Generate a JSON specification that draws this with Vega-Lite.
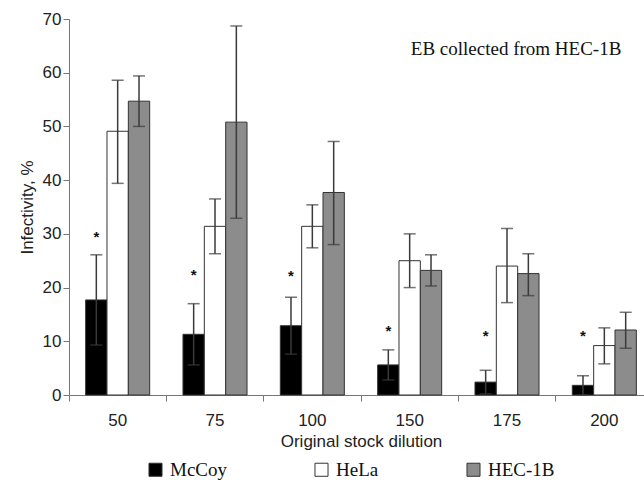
{
  "$schema": "https://vega.github.io/schema/vega-lite/v6.json",
  "autosize": "none",
  "width": 584,
  "height": 376,
  "padding": {"left": 69, "top": 19, "right": 0, "bottom": 85},
  "background": "white",
  "config": {
    "view": {"stroke": null},
    "axis": {"labelFont": "Liberation Sans", "titleFont": "Liberation Sans", "labelColor": "#222", "titleColor": "#222", "domainColor": "#777", "tickColor": "#777", "grid": false}
  },
  "datasets": {
    "bars": [
      {"dilution": "50", "line": "McCoy", "value": 17.7, "lo": 9.3, "hi": 26.1, "star": 29.8},
      {"dilution": "50", "line": "HeLa", "value": 49.1, "lo": 39.4, "hi": 58.6, "star": null},
      {"dilution": "50", "line": "HEC-1B", "value": 54.7, "lo": 50.0, "hi": 59.4, "star": null},
      {"dilution": "75", "line": "McCoy", "value": 11.3, "lo": 5.6, "hi": 17.0, "star": 22.8},
      {"dilution": "75", "line": "HeLa", "value": 31.4, "lo": 26.3, "hi": 36.5, "star": null},
      {"dilution": "75", "line": "HEC-1B", "value": 50.8, "lo": 32.9, "hi": 68.7, "star": null},
      {"dilution": "100", "line": "McCoy", "value": 12.9, "lo": 7.6, "hi": 18.2, "star": 22.5},
      {"dilution": "100", "line": "HeLa", "value": 31.4, "lo": 27.4, "hi": 35.4, "star": null},
      {"dilution": "100", "line": "HEC-1B", "value": 37.7, "lo": 28.0, "hi": 47.2, "star": null},
      {"dilution": "150", "line": "McCoy", "value": 5.6, "lo": 2.8, "hi": 8.4, "star": 12.3},
      {"dilution": "150", "line": "HeLa", "value": 25.0, "lo": 20.0, "hi": 30.0, "star": null},
      {"dilution": "150", "line": "HEC-1B", "value": 23.2, "lo": 20.3, "hi": 26.1, "star": null},
      {"dilution": "175", "line": "McCoy", "value": 2.4, "lo": 0.2, "hi": 4.6, "star": 11.4},
      {"dilution": "175", "line": "HeLa", "value": 24.0, "lo": 17.2, "hi": 31.0, "star": null},
      {"dilution": "175", "line": "HEC-1B", "value": 22.6, "lo": 18.5, "hi": 26.3, "star": null},
      {"dilution": "200", "line": "McCoy", "value": 1.8, "lo": 0.0, "hi": 3.6, "star": 11.4},
      {"dilution": "200", "line": "HeLa", "value": 9.2, "lo": 5.8, "hi": 12.5, "star": null},
      {"dilution": "200", "line": "HEC-1B", "value": 12.1, "lo": 8.7, "hi": 15.4, "star": null}
    ],
    "note": [
      {"dilution": "200", "y": 64.4, "label": "EB collected from HEC-1B"}
    ]
  },
  "encoding": {
    "x": {
      "field": "dilution", "type": "nominal", "sort": ["50", "75", "100", "150", "175", "200"],
      "scale": {"paddingInner": 0, "paddingOuter": 0},
      "axis": {"bandPosition": 0, "labelAngle": 0, "labelFontSize": 17, "labelPadding": 11, "tickSize": 6, "title": "Original stock dilution", "titleFontSize": 17, "titleFontWeight": "normal", "titlePadding": 5}
    }
  },
  "layer": [
    {
      "data": {"name": "bars"},
      "mark": {"type": "bar", "stroke": "#333", "strokeWidth": 1},
      "encoding": {
        "xOffset": {"field": "line", "type": "nominal", "sort": ["McCoy", "HeLa", "HEC-1B"], "scale": {"domain": ["McCoy", "HeLa", "HEC-1B"], "paddingInner": 0, "paddingOuter": 0.78}},
        "y": {
          "field": "value", "type": "quantitative",
          "scale": {"domain": [0, 70]},
          "axis": {"values": [0, 10, 20, 30, 40, 50, 60, 70], "labelFontSize": 17, "labelPadding": 2, "tickSize": 6, "title": "Infectivity, %", "titleFontSize": 17, "titleFontWeight": "normal", "titlePadding": 6}
        },
        "fill": {
          "field": "line", "type": "nominal",
          "scale": {"domain": ["McCoy", "HeLa", "HEC-1B"], "range": ["#000000", "#ffffff", "#8c8c8c"]},
          "legend": {"title": null, "orient": "none", "legendX": 77, "legendY": 441, "direction": "horizontal", "gridAlign": "each", "columnPadding": 85, "symbolType": "square", "symbolSize": 170, "symbolStrokeColor": "#333", "symbolStrokeWidth": 1, "labelFont": "Liberation Serif", "labelFontSize": 19, "labelColor": "#111", "labelOffset": 5}
        }
      }
    },
    {
      "data": {"name": "bars"},
      "mark": {"type": "rule", "color": "#3a3a3a", "strokeWidth": 1.5},
      "encoding": {
        "xOffset": {"field": "line", "type": "nominal", "sort": ["McCoy", "HeLa", "HEC-1B"]},
        "y": {"field": "lo", "type": "quantitative"},
        "y2": {"field": "hi"}
      }
    },
    {
      "data": {"name": "bars"},
      "mark": {"type": "tick", "color": "#3a3a3a", "thickness": 1.5, "size": 12},
      "encoding": {
        "xOffset": {"field": "line", "type": "nominal", "sort": ["McCoy", "HeLa", "HEC-1B"]},
        "y": {"field": "hi", "type": "quantitative"}
      }
    },
    {
      "data": {"name": "bars"},
      "mark": {"type": "tick", "color": "#3a3a3a", "thickness": 1.5, "size": 12},
      "encoding": {
        "xOffset": {"field": "line", "type": "nominal", "sort": ["McCoy", "HeLa", "HEC-1B"]},
        "y": {"field": "lo", "type": "quantitative"}
      }
    },
    {
      "data": {"name": "bars"},
      "transform": [{"filter": "datum.star != null"}],
      "mark": {"type": "text", "font": "Liberation Sans", "fontSize": 15, "fontWeight": "bold", "color": "#111", "baseline": "middle", "dy": 2},
      "encoding": {
        "xOffset": {"field": "line", "type": "nominal", "sort": ["McCoy", "HeLa", "HEC-1B"]},
        "y": {"field": "star", "type": "quantitative"},
        "text": {"value": "*"}
      }
    },
    {
      "data": {"name": "note"},
      "mark": {"type": "text", "font": "Liberation Serif", "fontSize": 19, "color": "#111", "align": "right", "baseline": "middle", "dx": 17},
      "encoding": {
        "y": {"field": "y", "type": "quantitative"},
        "text": {"field": "label"}
      }
    }
  ]
}
